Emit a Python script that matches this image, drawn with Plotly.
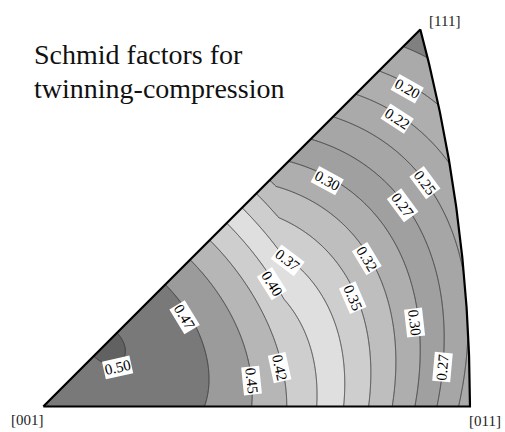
import numpy as np
import plotly.graph_objects as go

# FCC deformation twinning systems {111}<112>; each direction carries the
# twinning sense of the shear on its plane.
twin_planes = [[1, 1, 1], [-1, 1, 1], [1, -1, 1], [1, 1, -1]]
twin_dirs = [
    [[1, 1, -2], [1, -2, 1], [-2, 1, 1]],
    [[-1, 1, -2], [-1, -2, 1], [2, 1, 1]],
    [[1, -1, -2], [1, 2, 1], [-2, -1, 1]],
    [[1, 1, 2], [1, -2, -1], [-2, 1, -1]],
]

# contour levels of the Schmid factor map
contour_levels = [0.174, 0.199, 0.224, 0.249, 0.274, 0.299, 0.324,
                  0.349, 0.374, 0.399, 0.424, 0.449, 0.474, 0.499]
# grey value of each band: below the first level, then above each level
band_grays = [128, 170, 174, 170, 166, 160, 174, 190, 206, 223,
              206, 182, 155, 121, 97]

# levels that carry a printed label
label_levels = [0.199, 0.224, 0.249, 0.274, 0.299, 0.324, 0.349, 0.374,
                0.399, 0.299, 0.274, 0.424, 0.449, 0.474, 0.499]

pole_names = ["[001]", "[011]", "[111]"]
title_lines = ["Schmid factors for", "twinning-compression"]

# ---- page geometry (pixels) ----
W, H = 505, 432
PX_PER_UNIT = 1030.0
ORIGIN_PX = (43.3, 406.5)          # where the [001] pole sits on the page
label_spots_px = [(407, 88), (397, 118), (425, 182), (403, 205), (327, 180),
                  (367, 258), (353, 297), (288, 260), (272, 283), (415, 322),
                  (442, 367), (280, 367), (252, 380), (185, 317), (117, 367)]
# rough reading direction of each label (deg, clockwise); the exact angle
# follows the contour through the label
label_dir_hint = [25, 30, 55, 60, 22, 60, 70, 35, 55, 85, -95, 78, 85, 65, -40]
pole_spots_px = [(27, 420), (485, 421), (444, 21)]
title_spots_px = [(32, 54), (32, 88)]


def px_to_data(px, py):
    return (px - ORIGIN_PX[0]) / PX_PER_UNIT, (ORIGIN_PX[1] - py) / PX_PER_UNIT


def directions(X, Y):
    """Stereographic point (pole [001], horizontal towards [011]) -> unit vector."""
    r2 = X ** 2 + Y ** 2
    return np.stack([2 * Y, 2 * X, 1 - r2]) / (1 + r2)


def schmid_compression(X, Y):
    d = directions(np.asarray(X, float), np.asarray(Y, float))
    best = np.full(np.shape(X), -np.inf)
    for n, dirs in zip(twin_planes, twin_dirs):
        n = np.array(n, float) / np.linalg.norm(n)
        dn = np.tensordot(n, d, axes=1)
        for b in dirs:
            b = np.array(b, float) / np.linalg.norm(b)
            db = np.tensordot(b, d, axes=1)
            best = np.maximum(best, -dn * db)   # compressive load
    return best


# ---- field on a regular grid ----
xs = np.arange(-0.02, 0.44, 0.0015)
ys = np.arange(-0.02, 0.39, 0.0015)
GX, GY = np.meshgrid(xs, ys)
Z = np.round(schmid_compression(GX, GY), 5)

# stepped grey colour scale, one flat colour per band
nc = len(contour_levels)
colorscale = [[k / nc, f"rgb({g},{g},{g})"] for k, g in enumerate(band_grays)]

fig = go.Figure()
fig.add_trace(go.Contour(
    x=xs, y=ys, z=Z,
    autocontour=False,
    contours=dict(start=contour_levels[0], end=contour_levels[-1],
                  size=round(contour_levels[1] - contour_levels[0], 6),
                  coloring="fill", showlabels=False),
    colorscale=colorscale, showscale=False,
    line=dict(color="rgb(55,55,55)", width=0.9, smoothing=0),
    hoverinfo="skip",
))

# ---- unit triangle boundary: [001]-[011] line, [011]-[111] arc, [111]-[001] line ----
alpha = np.linspace(0, np.arctan(1 / np.sqrt(2)), 120)
arc_d = np.stack([np.sin(alpha), np.cos(alpha) / np.sqrt(2), np.cos(alpha) / np.sqrt(2)])
arc_x = arc_d[1] / (1 + arc_d[2])
arc_y = arc_d[0] / (1 + arc_d[2])
tri_x = np.concatenate([[0.0], arc_x, [0.0]])
tri_y = np.concatenate([[0.0], arc_y, [0.0]])

# white cover for everything outside the triangle
X0, X1, Y0, Y1 = -0.1, 0.5, -0.1, 0.45
mask_x = np.concatenate([[X0], tri_x, [X0, X0, X1, X1, X0]])
mask_y = np.concatenate([[Y0], tri_y, [Y0, Y1, Y1, Y0, Y0]])
fig.add_trace(go.Scatter(x=mask_x, y=mask_y, mode="lines", fill="toself",
                         fillcolor="white", line=dict(width=0, color="white"),
                         hoverinfo="skip", showlegend=False))
fig.add_trace(go.Scatter(x=tri_x, y=tri_y, mode="lines",
                         line=dict(color="black", width=2.2),
                         hoverinfo="skip", showlegend=False))

# ---- contour labels, turned along the local contour direction ----
SERIF = "Liberation Serif"
annotations = []
h = 1e-4
for lvl, (px, py), hint in zip(label_levels, label_spots_px, label_dir_hint):
    lx, ly = px_to_data(px, py)
    fx = float(schmid_compression(lx + h, ly) - schmid_compression(lx - h, ly)) / (2 * h)
    fy = float(schmid_compression(lx, ly + h) - schmid_compression(lx, ly - h)) / (2 * h)
    tx, ty = -fy, fx                       # tangent in data space
    ang = float(np.degrees(np.arctan2(-ty, tx)))   # clockwise on screen
    # pick the one of the two opposite directions closest to the hint
    while ang - hint > 90:
        ang -= 180
    while ang - hint <= -90:
        ang += 180
    annotations.append(dict(
        x=lx, y=ly, xref="x", yref="y", text=f"{lvl:.2f}", showarrow=False,
        textangle=ang, font=dict(family=SERIF, size=15, color="black"),
        bgcolor="white", borderpad=0.5, xanchor="center", yanchor="middle"))

for name, (px, py) in zip(pole_names, pole_spots_px):
    annotations.append(dict(
        x=px / W, y=1 - py / H, xref="paper", yref="paper", text=name,
        showarrow=False, font=dict(family=SERIF, size=15, color="#222"),
        xanchor="center", yanchor="middle"))

for line, (px, py) in zip(title_lines, title_spots_px):
    annotations.append(dict(
        x=px / W, y=1 - py / H, xref="paper", yref="paper", text=line,
        showarrow=False, font=dict(family=SERIF, size=28, color="#111"),
        xanchor="left", yanchor="middle"))

fig.update_layout(
    width=W, height=H, margin=dict(l=0, r=0, t=0, b=0),
    paper_bgcolor="white", plot_bgcolor="white", showlegend=False,
    font=dict(family=SERIF),
    xaxis=dict(range=[-ORIGIN_PX[0] / PX_PER_UNIT, (W - ORIGIN_PX[0]) / PX_PER_UNIT],
               visible=False, fixedrange=True),
    yaxis=dict(range=[(ORIGIN_PX[1] - H) / PX_PER_UNIT, ORIGIN_PX[1] / PX_PER_UNIT],
               visible=False, fixedrange=True),
    annotations=annotations,
)

fig.write_html("out.html")
